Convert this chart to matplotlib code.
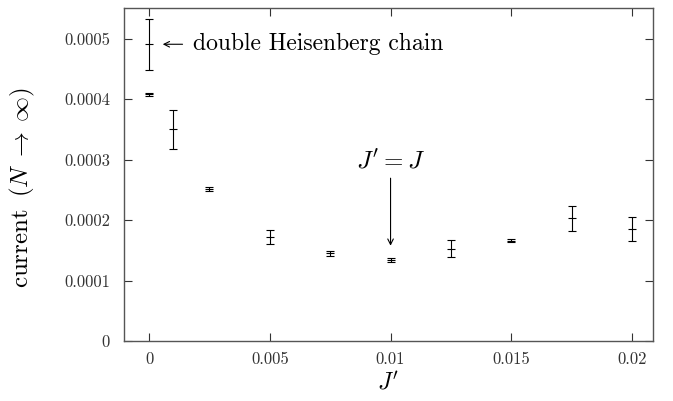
import matplotlib
matplotlib.use("Agg")
import matplotlib.pyplot as plt

plt.rcParams['font.family'] = 'serif'
plt.rcParams['font.serif'] = ['cmr10']
plt.rcParams['mathtext.fontset'] = 'cm'
plt.rcParams['axes.formatter.use_mathtext'] = True
plt.rcParams['axes.unicode_minus'] = False

jprime = [0.0, 0.0, 0.001, 0.0025, 0.005, 0.0075, 0.01, 0.0125, 0.015, 0.0175, 0.02]
current = [0.000491, 0.000408, 0.000350, 0.000251, 0.000172, 0.000145, 0.000134,
           0.000153, 0.000166, 0.000203, 0.000185]
errors = [0.000042, 0.000002, 0.000032, 0.000003, 0.000012, 0.000004, 0.000003,
          0.000014, 0.000003, 0.000021, 0.000020]
xticks = [0, 0.005, 0.01, 0.015, 0.02]
xticklabels = ['0', '0.005', '0.01', '0.015', '0.02']
yticks = [0, 0.0001, 0.0002, 0.0003, 0.0004, 0.0005]
yticklabels = ['0', '0.0001', '0.0002', '0.0003', '0.0004', '0.0005']

fig = plt.figure(figsize=(6.73, 4.01), dpi=100)
ax = fig.add_axes([124/673, 1-341/401, (653-124)/673, (341-8)/401])

ax.errorbar(jprime, current, yerr=errors, fmt='_', color='black', ecolor='black',
            elinewidth=0.8, capsize=3, capthick=0.8, markersize=6, markeredgewidth=0.8)

ax.set_xlim(-0.00104, 0.02087)
ax.set_ylim(0, 0.000551)
ax.set_xticks(xticks)
ax.set_xticklabels(xticklabels)
ax.set_yticks(yticks)
ax.set_yticklabels(yticklabels)
ax.tick_params(direction='in', length=6, width=0.8, top=True, right=True,
               labelsize=12, colors='#333333', labelcolor='#333333', pad=10)
ax.tick_params(axis='x', pad=8)
for s in ax.spines.values():
    s.set_linewidth(1.0)
    s.set_color('#555555')

ax.set_xlabel(r"$J'$", fontsize=17, labelpad=3)
ax.set_ylabel(r"current $\,(N\;\rightarrow\;\infty)$", fontsize=18)
ax.yaxis.set_label_coords(-0.165, 0.46)

ax.annotate('', xy=(0.00045, 0.000491), xytext=(0.0015, 0.000491),
            arrowprops=dict(arrowstyle='->', color='black', lw=0.8))
ax.text(0.0018, 0.000491, 'double Heisenberg chain', fontsize=17, va='center', ha='left')

ax.annotate('', xy=(0.01, 0.000153), xytext=(0.01, 0.000274),
            arrowprops=dict(arrowstyle='->', color='black', lw=0.8))
ax.text(0.01, 0.000297, r"$J' = J$", fontsize=18, va='center', ha='center')

fig.savefig('out.png', dpi=100)
